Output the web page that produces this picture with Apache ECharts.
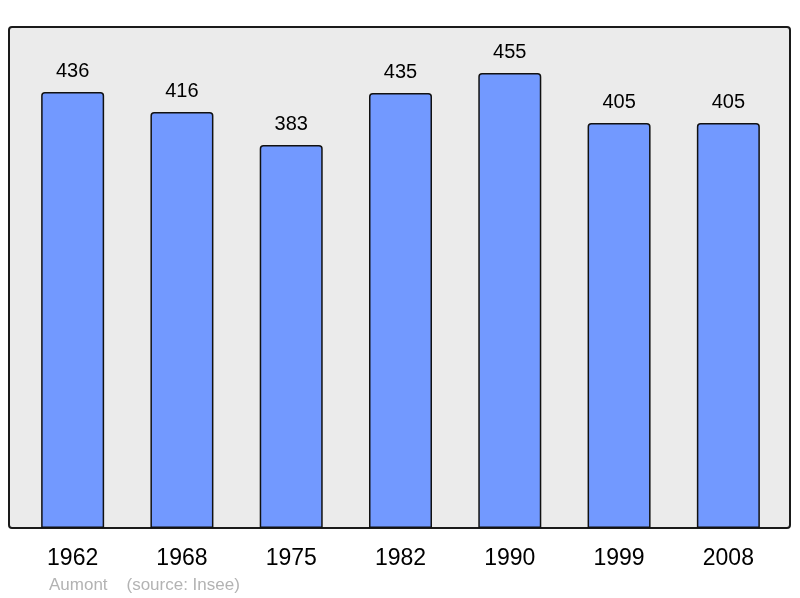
<!DOCTYPE html>
<html><head><meta charset="utf-8">
<script src="https://cdn.jsdelivr.net/npm/echarts@6/dist/echarts.min.js"></script>
<style>html,body{margin:0;padding:0;background:#fff}#c{width:800px;height:598px}</style>
</head><body><div id="c"></div>
<script>
const years = ['1962','1968','1975','1982','1990','1999','2008'];
const population = [436, 416, 383, 435, 455, 405, 405];
const footerText = 'Aumont    (source: Insee)';

const chart = echarts.init(document.getElementById('c'), null, {renderer: 'canvas'});
chart.setOption({
  animation: false,
  backgroundColor: '#ffffff',
  textStyle: {fontFamily: 'Liberation Sans, Arial, sans-serif'},
  graphic: [
    {type: 'rect', z: 0, shape: {x: 9, y: 27, width: 781, height: 501, r: 3},
     style: {fill: '#ebebeb', stroke: '#1a1a1a', lineWidth: 2}},
    {type: 'text', z: 5, left: 49, top: 577,
     style: {text: footerText, fill: '#b3b3b3', font: '17px Liberation Sans, Arial, sans-serif'}}
  ],
  grid: {left: 18, right: 17, top: 27, bottom: 70, containLabel: false},
  xAxis: {
    type: 'category', data: years,
    axisLine: {show: false}, axisTick: {show: false},
    axisLabel: {color: '#000', fontSize: 23, margin: 19, fontFamily: 'Liberation Sans, Arial, sans-serif'}
  },
  yAxis: {type: 'value', min: 0, max: 501, show: false, splitLine: {show: false}},
  series: [{
    type: 'bar', data: population, barWidth: 63, z: 3,
    itemStyle: {color: '#7299ff', borderColor: '#111', borderWidth: 1.5, borderRadius: [3, 3, 0, 0]},
    label: {show: true, position: 'top', distance: 11, color: '#000', fontSize: 20,
            fontFamily: 'Liberation Sans, Arial, sans-serif'}
  }]
});
</script></body></html>
